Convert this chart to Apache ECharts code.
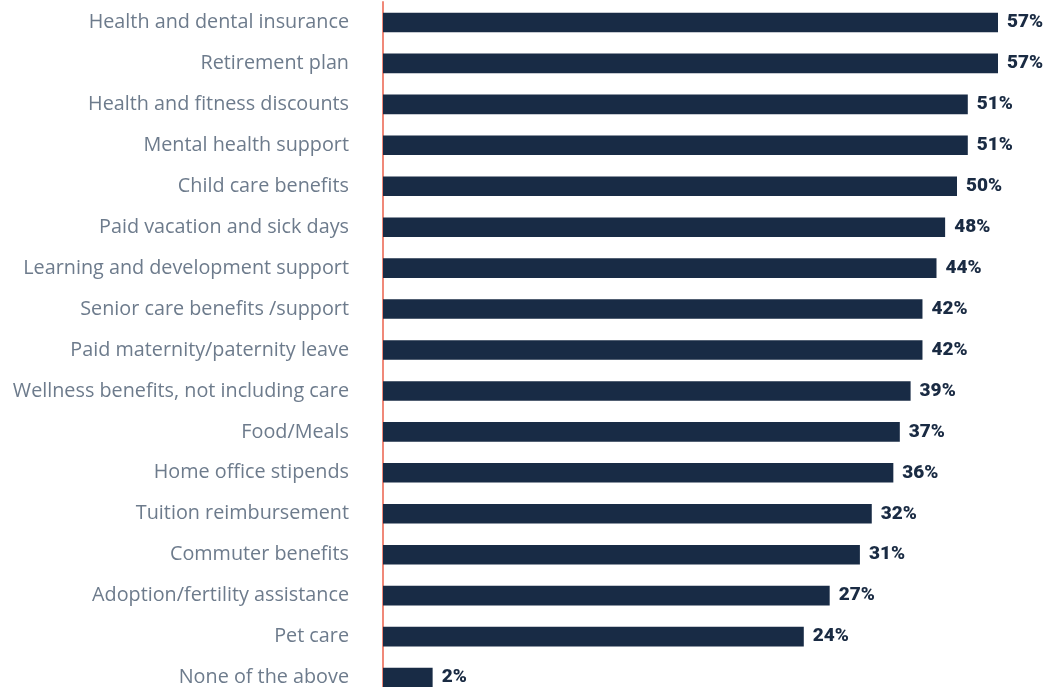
<!DOCTYPE html>
<html>
<head>
<meta charset="utf-8">
<script src="https://cdn.jsdelivr.net/npm/echarts@6/dist/echarts.min.js"></script>
<style>
html,body{margin:0;padding:0;background:#fff;overflow:hidden;}
#chart{width:1052px;height:698px;}
</style>
</head>
<body>
<div id="chart"></div>
<script>
const categories = [
  "Health and dental insurance",
  "Retirement plan",
  "Health and fitness discounts",
  "Mental health support",
  "Child care benefits",
  "Paid vacation and sick days",
  "Learning and development support",
  "Senior care benefits /support",
  "Paid maternity/paternity leave",
  "Wellness benefits, not including care",
  "Food/Meals",
  "Home office stipends",
  "Tuition reimbursement",
  "Commuter benefits",
  "Adoption/fertility assistance",
  "Pet care",
  "None of the above"
];
// Percentages printed next to the bars
const shares = [57, 57, 51, 51, 50, 48, 44, 42, 42, 39, 37, 36, 32, 31, 27, 24, 2];
// Bar lengths as drawn in the reference (not proportional to the printed shares)
const barLengths = [57, 57, 54.2, 54.2, 53.2, 52.1, 51.3, 50.0, 50.0, 48.9, 47.9, 47.3, 45.3, 44.2, 41.4, 39.0, 4.6];

const chart = echarts.init(document.getElementById('chart'), null, {renderer: 'canvas'});
chart.setOption({
  animation: false,
  grid: {left: 383, right: 54, top: 2, bottom: 0, containLabel: false},
  xAxis: {
    type: 'value', min: 0, max: 57, show: false
  },
  yAxis: {
    type: 'category',
    data: categories,
    inverse: true,
    offset: 13,
    axisLine: {show: true, lineStyle: {color: '#f08878', width: 2}},
    axisTick: {show: false},
    axisLabel: {
      margin: 21,
      color: '#6d7b8c',
      fontFamily: '"Open Sans", sans-serif',
      fontSize: 19.8
    },
    splitLine: {show: false}
  },
  series: [{
    type: 'bar',
    data: barLengths,
    barWidth: 19.6,
    itemStyle: {color: '#182b45'},
    label: {
      show: true,
      position: 'right',
      distance: 9,
      formatter: p => shares[p.dataIndex] + '%',
      color: '#1a2b43',
      fontFamily: 'Roboto, "Open Sans", sans-serif',
      fontWeight: 900,
      fontSize: 19
    }
  }]
});
</script>
</body>
</html>
